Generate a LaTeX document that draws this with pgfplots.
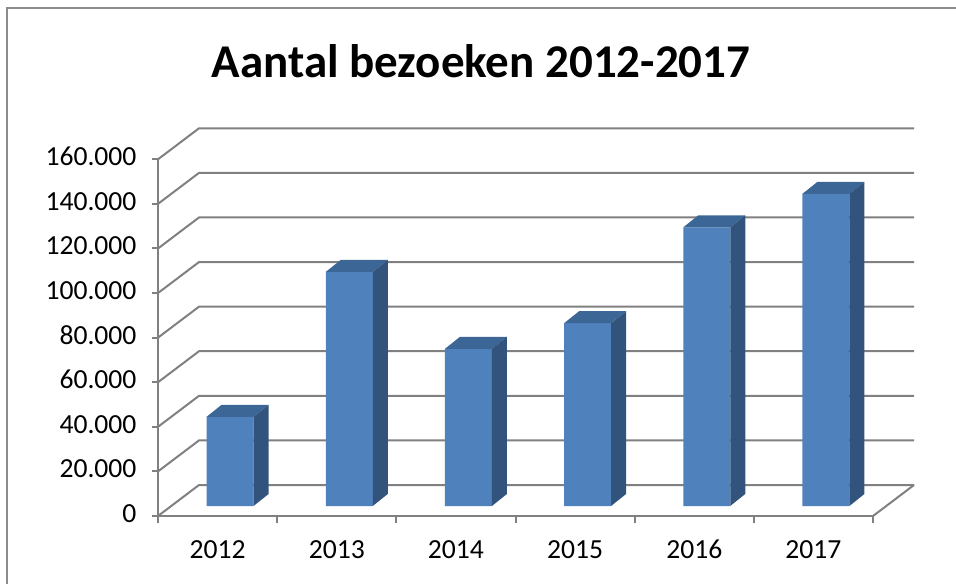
\documentclass[border=0pt]{standalone}
\usepackage{fontspec}
\setmainfont{Carlito}
\usepackage{pgfplots}
\pgfplotsset{compat=1.18}
\usepackage{pgfplotstable}

\definecolor{frontc}{RGB}{79,129,189}
\definecolor{topc}{RGB}{60,102,150}
\definecolor{sidec}{RGB}{50,84,124}
\definecolor{gridc}{RGB}{128,128,128}
\definecolor{framec}{RGB}{140,140,140}

\pgfplotstableread{
x v
0.5 40000
1.5 105000
2.5 70500
3.5 82000
4.5 125000
5.5 140000
}\datatable

% top and side faces of a 3D bar, drawn at the top-centre of the front face
% bar height (pt) = transformed meta (0..1000 for 0..160000) * 178.35/1000
\pgfdeclareplotmark{cubetop}{%
  \pgfmathsetmacro\hh{\pgfplotspointmetatransformed*0.17835}%
  \pgfpathmoveto{\pgfqpoint{-11.75pt}{0pt}}%
  \pgfpathlineto{\pgfqpoint{11.75pt}{0pt}}%
  \pgfpathlineto{\pgfqpoint{19.25pt}{6pt}}%
  \pgfpathlineto{\pgfqpoint{-4.25pt}{6pt}}%
  \pgfpathclose
  \pgfsetfillcolor{topc}%
  \pgfusepath{fill}%
  \pgfpathmoveto{\pgfqpoint{11.75pt}{0pt}}%
  \pgfpathlineto{\pgfqpoint{19.25pt}{6pt}}%
  \pgfpathlineto{\pgfqpoint{19.25pt}{\dimexpr 6pt-\hh pt\relax}}%
  \pgfpathlineto{\pgfqpoint{11.75pt}{-\hh pt}}%
  \pgfpathclose
  \pgfsetfillcolor{sidec}%
  \pgfusepath{fill}%
}

\begin{document}
\begin{tikzpicture}
\path[use as bounding box] (0,0) rectangle (478pt,291.5pt);
\draw[framec, line width=1.2pt] (3.5pt,-1pt) -- (3.5pt,287.5pt) -- (479pt,287.5pt);
\node[anchor=base, font=\fontsize{23.5}{28}\selectfont\bfseries] at (240.5pt,252.5pt) {Aantal bezoeken 2012-2017};
% back wall, side wall and floor lines (drawn before the axis so they lie underneath)
\foreach \k in {0,...,8}{
  \draw[gridc, line width=1pt] (79pt,33.5pt+\k*22.29375pt) -- ++(20.5pt,15.5pt) -- ++(357.5pt,0pt);
}
\draw[gridc, line width=1pt] (436.5pt,33.5pt) -- ++(20.5pt,15.5pt);
\begin{axis}[
  at={(79pt,33.5pt)}, anchor=south west,
  scale only axis, width=357.5pt, height=178.35pt,
  xmin=0, xmax=6, ymin=0, ymax=160000,
  clip=false,
  axis x line*=bottom, axis y line*=left,
  axis line style={gridc, line width=1pt, -},
  xtick={0,...,6}, x tick label as interval,
  xticklabels={2012,2013,2014,2015,2016,2017},
  ytick={0,20000,40000,60000,80000,100000,120000,140000,160000},
  yticklabels={0,20.000,40.000,60.000,80.000,100.000,120.000,140.000,160.000},
  scaled y ticks=false,
  tick style={gridc, line width=1pt},
  major tick length=3.25pt, tick align=outside,
  typeset ticklabels with strut,
  ticklabel style={font=\fontsize{13.8}{16}\selectfont, text=black},
  yticklabel style={xshift=-4pt},
  xticklabel style={yshift=-3.5pt},
]
\addplot[ybar, bar width=23.5pt, fill=frontc, draw=none, xshift=6.25pt, yshift=5pt]
  table[x=x, y=v] {\datatable};
\addplot[scatter, only marks, mark=cubetop, xshift=6.25pt, yshift=5pt,
  point meta=\thisrow{v}, point meta min=0, point meta max=160000]
  table[x=x, y=v] {\datatable};
\end{axis}
\end{tikzpicture}
\end{document}
